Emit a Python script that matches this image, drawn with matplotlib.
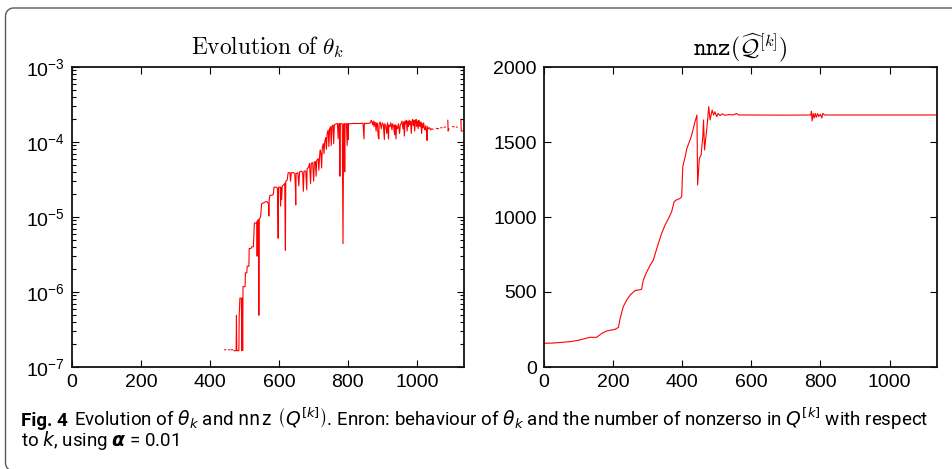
import numpy as np
import matplotlib
matplotlib.use('Agg')
import matplotlib.pyplot as plt
from matplotlib.patches import PathPatch
from matplotlib.path import Path
from matplotlib.ticker import LogLocator, NullFormatter
from matplotlib import font_manager

nan = np.nan

# ── theta_k trace (values in units of 1e-6, nan = no value) ──────────────────
theta_k = [443, 446, nan, 455, 458, nan, 463, 466, nan,
           470, 476, 477, 478, 484, 485, 487, 491, 493, 494, 495, 496, 502, 503,
           507, 508, 513, 514, 519, 521, 526, 529, 533, 536, 537, 538, 541, 542,
           543, 547, 550, 556, 562, 566, 570, 571, 572, 574, 580, 584, 586, 592,
           596, 598, 599, 604, 605, 606, 608, 610, 614, 617, 619, 620, 624, 627,
           632, 634, 636, 642, 646, 648, 649, 650, 655, 658, 660, 665, 669, 671,
           673, 678, 681, 682, 686, 689, 692, 694, 698, 701, 703, 706, 708, 710,
           714, 716, 718, 720, 722, 724, 726, 729, 731, 733, 736, 738, 740, 743,
           745, 747, 750, 752, 754, 757, 759, 761, 764, 767, 770, 772, 774, 776,
           777, 778, 781, 784, 786, 787, 788, 790, 791, 792, 796, 798, 800, 801,
           802, 806, 812, 818, 824, 830, 836, 840, 844, 847, 848, 852, 858, 862,
           865, 868, 870, 872, 874, 876, 878, 880, 882, 884, 886, 888, 890, 891,
           894, 897, 900, 903, 906, 907, 910, 913, 915, 918, 919, 922, 925, 928,
           930, 933, 936, 937, 940, 941, 944, 947, 950, 952, 955, 957, 960, 962,
           964, 966, 968, 970, 972, 974, 976, 978, 980, 982, 984, 986, 988, 990,
           992, 994, 996, 998, 1000, 1002, 1004, 1006, 1008, 1010, 1012, 1014,
           1016, 1018, 1020, 1022, 1024, 1026, 1028, 1030, 1031, 1034, 1037, 1040,
           1043, 1047, nan,
           1057, 1063, nan, 1070, 1073, nan, 1080, 1083, nan, 1090, 1091, 1093,
           nan, 1104, 1108, nan, 1115, 1117, nan, 1128, 1129, 1133, 1136]
theta_v = [0.17, 0.17, nan, 0.17, 0.17, nan, 0.17, 0.17, nan,
           0.165, 0.165, 0.49, 0.165, 0.165, 0.49, 0.83, 0.83, 0.165, 0.83, 0.165,
           1.18, 1.18, 1.8, 1.8, 2.2, 2.2, 3.8, 3.8, 4.0, 4.0, 8.3, 8.3, 8.6, 3.0,
           9.0, 9.2, 0.49, 9.4, 10, 15, 15.5, 16, 16, 15, 10.3, 17, 19.5, 19.5, 20,
           25, 25, 24, 5.2, 25, 25, 14, 25, 17, 26, 27, 28, 3.6, 30, 31, 39, 39,
           30, 39, 39, 38, 25, 14.5, 38, 39, 26, 40, 41, 39, 22, 41, 41, 23, 44,
           46, 52, 28, 52, 53, 30, 54, 55, 35, 57, 60, 42, 65, 78, 70, 45, 85, 95,
           70, 100, 115, 80, 130, 144, 87, 150, 160, 90, 163, 168, 95, 170, 172,
           175, 176, 110, 176, 175, 35, 175, 176, 174, 4.4, 32, 174, 175, 40, 174,
           176, 90, 175, 107, 176, 175, 176, 177, 176, 177, 176, 178, 177, 110,
           178, 176, 178, 177, 180, 195, 185, 170, 190, 160, 185, 175, 140, 180,
           170, 120, 110, 175, 185, 150, 180, 170, 108, 175, 165, 130, 180, 110,
           170, 160, 180, 145, 175, 160, 125, 170, 110, 165, 150, 175, 130, 165,
           180, 190, 150, 185, 120, 190, 175, 195, 140, 190, 160, 195, 170, 190,
           130, 185, 200, 165, 195, 140, 185, 200, 160, 190, 150, 195, 170, 160,
           185, 130, 175, 155, 180, 150, 145, 165, 140, 105, 160, 150, 155, 145,
           150, 148, nan,
           152, 150, nan, 155, 155, nan, 158, 158, nan, 195, 140, 150,
           nan, 160, 160, nan, 158, 158, nan, 200, 140, 140, 142]

# ── nnz(Q^[k]) trace ──────────────────────────────────────────────────────────
nnz_k = [0, 30, 76, 100, 115, 134, 153, 168, 182, 206, 216, 221, 230, 240, 250,
         264, 283, 288, 296, 308, 317, 327, 341, 351, 361, 370, 377, 383, 394,
         399, 402, 409, 414, 423, 428, 436, 443, 445, 450, 455, 460, 462, 465,
         469, 473, 477, 481, 487, 491, 495, 500, 504, 510, 516, 524, 535, 548,
         557, 564, 600, 700, 772, 774, 776, 779, 782, 785, 788, 792, 795, 800,
         804, 807, 812, 900, 1000, 1138]
nnz_v = [158, 160, 169, 178, 187, 198, 198, 224, 240, 251, 264, 324, 402, 447,
         480, 509, 518, 580, 624, 680, 713, 791, 891, 947, 991, 1036, 1102, 1113,
         1124, 1135, 1336, 1402, 1458, 1513, 1547, 1624, 1680, 1213, 1391, 1413,
         1536, 1647, 1447, 1536, 1624, 1736, 1647, 1713, 1680, 1702, 1669, 1690,
         1676, 1688, 1678, 1683, 1680, 1690, 1680, 1680, 1679, 1680, 1705, 1640,
         1690, 1660, 1690, 1665, 1690, 1670, 1685, 1660, 1690, 1680, 1680, 1680,
         1680]

x_ticks = [0, 200, 400, 600, 800, 1000]
nnz_ticks = [0, 500, 1000, 1500, 2000]
K_MAX = 1137

W, H = 952, 469
def fx(x): return x / W
def fy(y): return 1 - y / H

TICK_FONT = 'Liberation Sans'
installed = {f.name for f in font_manager.fontManager.ttflist}
CAP_FONT = 'Liberation Sans Narrow' if 'Liberation Sans Narrow' in installed else 'Roboto'

plt.rcParams['font.family'] = TICK_FONT
plt.rcParams['mathtext.fontset'] = 'cm'

fig = plt.figure(figsize=(W / 100, H / 100), dpi=100)

# card outline: open on the right and bottom, rounded corners on the left
def card_path(x0, y0, y1, x_end, r):
    a = np.linspace(0, np.pi / 2, 12)
    top = [(x_end, y0), (x0 + r, y0)]
    tl = [(x0 + r - r * np.sin(t), y0 + r - r * np.cos(t)) for t in a]
    bl = [(x0 + r - r * np.cos(t), y1 - r + r * np.sin(t)) for t in a]
    bottom = [(x_end, y1)]
    pts = top + tl + bl + bottom
    return Path([(fx(x), fy(y)) for x, y in pts])

fig.patches.append(PathPatch(card_path(5.5, 8, 471, 1000, 8),
                             transform=fig.transFigure, facecolor='none',
                             edgecolor='#5a5a5a', linewidth=1.0))

def style_axes(ax):
    ax.set_xlim(0, K_MAX)
    ax.set_xticks(x_ticks)
    ax.tick_params(which='both', direction='in', top=True, right=True,
                   labelsize=14, width=0.8, pad=5)
    ax.tick_params(which='major', length=5)
    ax.tick_params(which='minor', length=3)
    for s in ax.spines.values():
        s.set_linewidth(1.3)
        s.set_color('#111111')

# ── left: theta_k ─────────────────────────────────────────────────────────────
ax1 = fig.add_axes([fx(72), fy(367), fx(464) - fx(72), fy(67) - fy(367)])
ax1.plot(theta_k, np.array(theta_v) * 1e-6, color='red', lw=0.8)
ax1.set_yscale('log')
ax1.set_ylim(1e-7, 1e-3)
ax1.yaxis.set_minor_locator(LogLocator(base=10, subs=np.arange(2, 10)))
ax1.yaxis.set_minor_formatter(NullFormatter())
style_axes(ax1)
ax1.set_title(r'$\mathrm{Evolution\ of}\ \theta_k$', fontsize=16.8, pad=9)

# ── right: nnz ────────────────────────────────────────────────────────────────
ax2 = fig.add_axes([fx(543.7), fy(367), fx(937) - fx(543.7), fy(67) - fy(367)])
ax2.plot(nnz_k, nnz_v, color='red', lw=0.8)
ax2.set_ylim(0, 2000)
ax2.set_yticks(nnz_ticks)
style_axes(ax2)
ax2.set_title(r'$\mathtt{nnz}(\widehat{\mathcal{Q}}^{[k]})$', fontsize=17, pad=8)

# ── caption ───────────────────────────────────────────────────────────────────
cap_size = 13.5
t0 = fig.text(fx(21), fy(426), 'Fig. 4', fontsize=cap_size, weight='bold',
              family=CAP_FONT, va='baseline')
fig.canvas.draw()
r = fig.canvas.get_renderer()
x_after = fx(21) + t0.get_window_extent(r).width / W + fx(6)
fig.text(x_after, fy(426),
         r'Evolution of $\theta_k$ and $\mathtt{nnz}\ \left(Q^{[k]}\right)$. '
         r'Enron: behaviour of $\theta_k$ and the number of nonzerso in $Q^{[k]}$ with respect',
         fontsize=cap_size, family=CAP_FONT, va='baseline',
         math_fontfamily='dejavusans')
fig.text(fx(21), fy(446), r'to $k$, using $\boldsymbol{\alpha}$ = 0.01',
         fontsize=cap_size, family=CAP_FONT, va='baseline',
         math_fontfamily='dejavusans')

fig.savefig('out.png', dpi=100, facecolor='white')
